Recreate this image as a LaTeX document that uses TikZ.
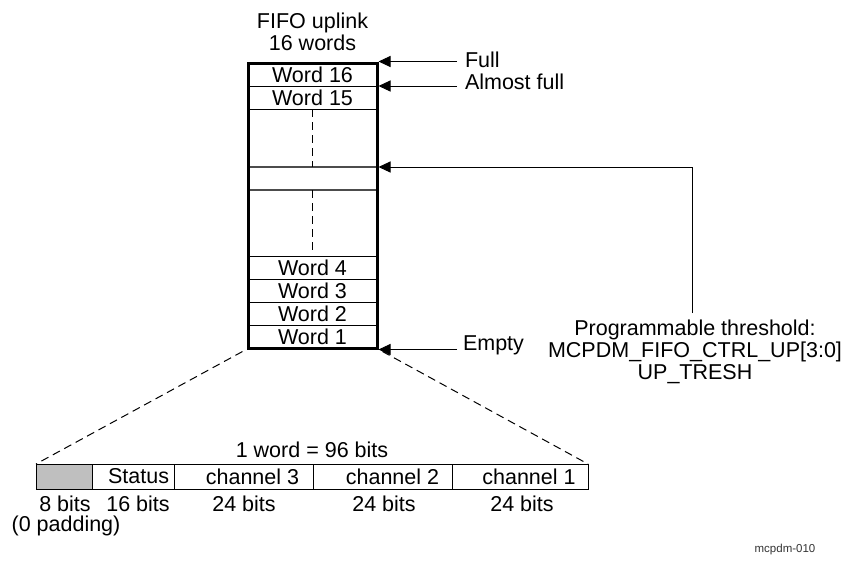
\documentclass[tikz,border=0pt]{standalone}
\usepackage{fontspec}
\setmainfont{Liberation Sans}
\usetikzlibrary{arrows.meta}
\begin{document}
\begin{tikzpicture}[x=1pt,y=-1pt,
  font=\fontsize{21.5}{22}\selectfont,
  row/.style={draw, line width=1pt, minimum width=129pt, minimum height=23pt, inner sep=0pt, outer sep=0pt},
  cell/.style={draw, line width=1pt, minimum height=25pt, inner sep=0pt, outer sep=0pt},
  txt/.style={inner sep=0pt, outer sep=0pt},
  arr/.style={line width=1pt, -{Triangle[length=12pt,width=11pt]}},
  dsh/.style={line width=1pt, dash pattern=on 8pt off 5pt}]
\useasboundingbox (0,0) rectangle (842,563);

% title
\node[txt, align=center] (title) at (312.5,32) {FIFO uplink\\16 words};

% rows
\node[row] (w16) at (312.5,74.5) {Word 16};
\node[row] (w15) at (312.5,97.5) {Word 15};
\node[row, draw=black!70, line width=1.6pt] (thr) at (312.5,178.5) {};
\node[row] (w4) at (312.5,267.5) {Word 4};
\node[row] (w3) at (312.5,290.5) {Word 3};
\node[row] (w2) at (312.5,313.5) {Word 2};
\node[row] (w1) at (312.5,336.5) {Word 1};
\draw[dsh] (w15.south) -- (thr.north);
\draw[dsh] (thr.south) -- ([yshift=3pt]w4.north);

% outer FIFO box
\node[draw, line width=3pt, minimum width=129pt, minimum height=285pt, inner sep=0pt] (fifo) at (312.5,205.5) {};

% status labels and arrows
\node[txt, anchor=west] (full) at (465,60) {Full};
\node[txt, anchor=west] (afull) at (465,82) {Almost full};
\node[txt, anchor=west] (empty) at (463,345) {Empty};
\draw[arr] ([xshift=-8pt]full.west |- fifo.north east) -- (fifo.north east);
\draw[arr] ([xshift=-8pt]afull.west |- w16.south) -- (fifo.east |- w16.south);
\draw[arr] ([xshift=-6pt]empty.west |- fifo.south east) -- (fifo.south east);

% programmable threshold
\node[txt, align=center, anchor=north] (prog) at (695,320)
  {Programmable threshold:\\MCPDM\_FIFO\_CTRL\_UP[3:0]\\UP\_TRESH};
\coordinate (bend) at (692,167);
\draw[line width=1pt] ([yshift=7pt]bend |- prog.north) -- (bend);
\draw[arr] (bend) -- (fifo.east |- thr.north);

% word layout
\node[txt] (wlabel) at (312,450) {1 word = 96 bits};
\node[cell, fill=black!25, minimum width=56pt] (pad) at (64,476.5) {};
\node[cell, minimum width=82pt] (status) at (133,476.5) {};
\node[cell, minimum width=139pt] (ch3) at (243.5,476.5) {};
\node[cell, minimum width=139pt] (ch2) at (382.5,476.5) {};
\node[cell, minimum width=136pt] (ch1) at (520,476.5) {};
\node[txt, anchor=east] (tstatus) at ([xshift=-5pt]status.east) {Status};
\node[txt] (tch3) at ([xshift=9pt]ch3.center) {channel 3};
\node[txt] (tch2) at ([xshift=10pt]ch2.center) {channel 2};
\node[txt] (tch1) at ([xshift=9pt]ch1.center) {channel 1};

\node[txt] (b8) at (65,504) {8 bits};
\node[txt] (bpad) at (66,526) {(0 padding)};
\node[txt] (b16) at (138,504) {16 bits};
\node[txt] (b24a) at (244,504) {24 bits};
\node[txt] (b24b) at (384,504) {24 bits};
\node[txt] (b24c) at (522,504) {24 bits};

% zoom lines
\draw[dsh] ([xshift=-4pt,yshift=-2pt]fifo.south west) -- (pad.north west);
\draw[dsh] ([xshift=4pt,yshift=-2pt]fifo.south east) -- (ch1.north east);

\node[txt, font=\fontsize{11.5}{13}\selectfont, text=black!80] (ref) at (785,550) {mcpdm-010};
\end{tikzpicture}
\end{document}
